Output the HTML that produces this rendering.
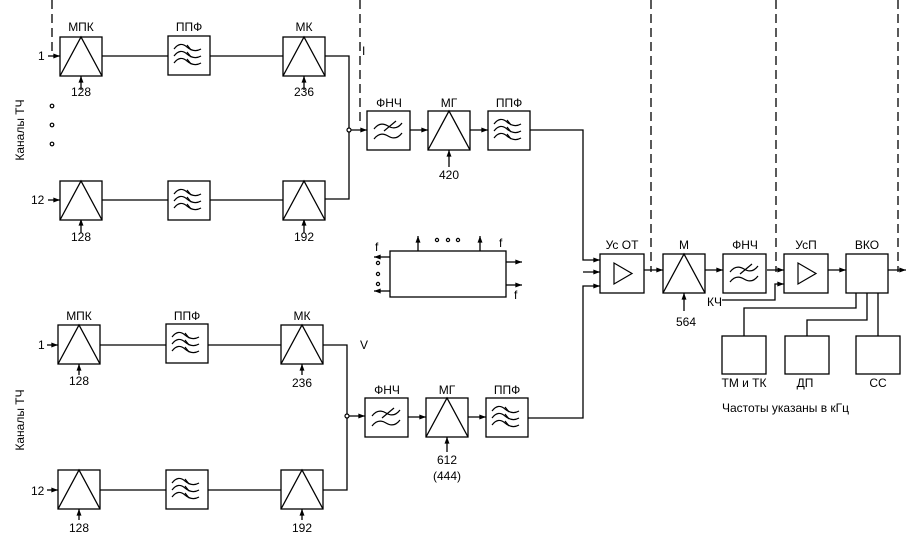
<!DOCTYPE html>
<html><head><meta charset="utf-8"><style>
html,body{margin:0;padding:0;background:#fff}
svg{display:block}
text{font-family:"Liberation Sans","DejaVu Sans",sans-serif;font-size:12px;fill:#000}
</style></head><body>
<svg width="913" height="548" viewBox="0 0 913 548" xmlns="http://www.w3.org/2000/svg">
<defs>
<marker id="a" viewBox="0 0 8 6" refX="8" refY="3" markerWidth="7" markerHeight="5" orient="auto" markerUnits="userSpaceOnUse"><path d="M0,0L8,3L0,6z" fill="#000"/></marker>
<g id="tri"><rect x="0" y="0" width="42" height="39" fill="#fff" stroke="#000" stroke-width="1.3"/><path d="M0,39L21,0L42,39" fill="none" stroke="#000" stroke-width="1.3"/></g>
<g id="ppf"><rect x="0" y="0" width="42" height="39" fill="#fff" stroke="#000" stroke-width="1.3"/>
<g fill="none" stroke="#000" stroke-width="1.2"><path d="M6,13q6,-8 13,-2t14,2"/><path d="M6,20q6,-8 13,-2t14,2"/><path d="M6,27q6,-8 13,-2t14,2"/><path d="M19,9l4,5M19,16l4,5M19,23l4,5"/></g></g>
<g id="fnch"><rect x="0" y="0" width="43" height="39" fill="#fff" stroke="#000" stroke-width="1.3"/>
<g fill="none" stroke="#000" stroke-width="1.2"><path d="M7,18q6,-8 14,-3t14,-3"/><path d="M7,28q6,-8 14,-3t14,-3"/><path d="M17,20l12,-10"/></g></g>
<g id="amp"><rect x="0" y="0" width="44" height="39" fill="#fff" stroke="#000" stroke-width="1.3"/><path d="M14,9L14,30L32,19.5z" fill="none" stroke="#000" stroke-width="1.2"/></g>
</defs>
<g stroke="#000" stroke-width="1.3" fill="none">
<path d="M52,0V55M360,0V125M651,0V272M776,0V272M898,0V272" stroke-dasharray="9,5"/>
<path d="M48,56H60" marker-end="url(#a)"/>
<path d="M102,56H168M210,56H283M325,56H349V199H325M102,200H168M210,200H283"/>
<path d="M48,200H60" marker-end="url(#a)"/>
<path d="M81,90V76" marker-end="url(#a)"/><path d="M304,90V76" marker-end="url(#a)"/>
<path d="M81,233V219" marker-end="url(#a)"/><path d="M304,233V219" marker-end="url(#a)"/>
<path d="M349,130H367" marker-end="url(#a)"/>
<path d="M410,130H428" marker-end="url(#a)"/><path d="M470,130H488" marker-end="url(#a)"/>
<path d="M449,167V150" marker-end="url(#a)"/>
<path d="M530,130H583V260H600" marker-end="url(#a)"/>
<path d="M583,272H600" marker-end="url(#a)"/>
<path d="M528,418H583V286H600" marker-end="url(#a)"/>
<path d="M47,345H58" marker-end="url(#a)"/>
<path d="M100,345H166M208,345H281M323,345H347V490H323M100,490H166M208,490H281"/>
<path d="M47,490H58" marker-end="url(#a)"/>
<path d="M79,375V364" marker-end="url(#a)"/><path d="M302,375V364" marker-end="url(#a)"/>
<path d="M79,520V509" marker-end="url(#a)"/><path d="M302,520V509" marker-end="url(#a)"/>
<path d="M347,416H365" marker-end="url(#a)"/>
<path d="M408,417H426" marker-end="url(#a)"/><path d="M468,417H486" marker-end="url(#a)"/>
<path d="M447,452V437" marker-end="url(#a)"/>
<path d="M644,270H663" marker-end="url(#a)"/>
<path d="M705,270H723" marker-end="url(#a)"/>
<path d="M767,270H784" marker-end="url(#a)"/>
<path d="M828,270H846" marker-end="url(#a)"/>
<path d="M888,270H906" marker-end="url(#a)"/>
<path d="M722,300H775V284H784" marker-end="url(#a)"/>
<path d="M684,311V293" marker-end="url(#a)"/>
<path d="M856,293V308H744V336M867,293V320H807V336M878,293V336"/>
<rect x="390" y="251" width="116" height="46"/>
<path d="M418,251V236" marker-end="url(#a)"/><path d="M480,251V236" marker-end="url(#a)"/>
<path d="M506,262H522" marker-end="url(#a)"/><path d="M506,285H522" marker-end="url(#a)"/>
<path d="M390,257H374" marker-end="url(#a)"/><path d="M390,291H374" marker-end="url(#a)"/>
<rect x="722" y="336" width="44" height="38"/><rect x="785" y="336" width="44" height="38"/><rect x="856" y="336" width="44" height="38"/>
<rect x="846" y="254" width="42" height="39"/>
</g>
<g fill="#fff" stroke="#000" stroke-width="1.2">
<circle cx="349" cy="130" r="2"/><circle cx="347" cy="416" r="2"/>
<circle cx="52" cy="106" r="1.8"/><circle cx="52" cy="125" r="1.8"/><circle cx="52" cy="144" r="1.8"/>
<circle cx="437" cy="240" r="1.6"/><circle cx="448" cy="240" r="1.6"/><circle cx="458" cy="240" r="1.6"/>
<circle cx="378" cy="263" r="1.6"/><circle cx="378" cy="274" r="1.6"/><circle cx="378" cy="284" r="1.6"/>
</g>
<use href="#tri" x="60" y="37"/><use href="#ppf" x="168" y="36"/><use href="#tri" x="283" y="37"/>
<use href="#tri" x="60" y="181"/><use href="#ppf" x="168" y="181"/><use href="#tri" x="283" y="181"/>
<use href="#fnch" x="367" y="111"/><use href="#tri" x="428" y="111"/><use href="#ppf" x="488" y="111"/>
<use href="#tri" x="58" y="325"/><use href="#ppf" x="166" y="324"/><use href="#tri" x="281" y="325"/>
<use href="#tri" x="58" y="470"/><use href="#ppf" x="166" y="470"/><use href="#tri" x="281" y="470"/>
<use href="#fnch" x="365" y="398"/><use href="#tri" x="426" y="398"/><use href="#ppf" x="486" y="398"/>
<use href="#amp" x="600" y="254"/><use href="#tri" x="663" y="254"/><use href="#fnch" x="723" y="254"/><use href="#amp" x="784" y="254"/>
<g text-anchor="middle">
<text x="81" y="31">МПК</text><text x="189" y="31">ППФ</text><text x="304" y="31">МК</text>
<text x="81" y="96">128</text><text x="304" y="96">236</text>
<text x="81" y="241">128</text><text x="304" y="241">192</text>
<text x="389" y="107">ФНЧ</text><text x="449" y="107">МГ</text><text x="509" y="107">ППФ</text>
<text x="449" y="179">420</text>
<text x="79" y="320">МПК</text><text x="187" y="320">ППФ</text><text x="302" y="320">МК</text>
<text x="79" y="385">128</text><text x="302" y="387">236</text>
<text x="79" y="532">128</text><text x="302" y="532">192</text>
<text x="387" y="394">ФНЧ</text><text x="447" y="394">МГ</text><text x="507" y="394">ППФ</text>
<text x="447" y="464">612</text><text x="447" y="480">(444)</text>
<text x="622" y="249">Ус ОТ</text><text x="684" y="249">М</text><text x="745" y="249">ФНЧ</text><text x="806" y="249">УсП</text><text x="867" y="249">ВКО</text>
<text x="686" y="326">564</text>
<text x="744" y="387">ТМ и ТК</text><text x="805" y="387">ДП</text><text x="878" y="387">СС</text>
</g>
<text x="38" y="60">1</text><text x="31" y="204">12</text>
<text x="38" y="349">1</text><text x="31" y="495">12</text>
<text x="362" y="55">I</text><text x="360" y="349">V</text>
<text x="707" y="306">КЧ</text>
<text x="722" y="412">Частоты указаны в кГц</text>
<text x="375" y="251" font-size="10">f</text><text x="499" y="247" font-size="10">f</text><text x="514" y="299" font-size="10">f</text>
<text transform="translate(24,130) rotate(-90)" text-anchor="middle">Каналы ТЧ</text>
<text transform="translate(24,420) rotate(-90)" text-anchor="middle">Каналы ТЧ</text>
</svg>
</body></html>
